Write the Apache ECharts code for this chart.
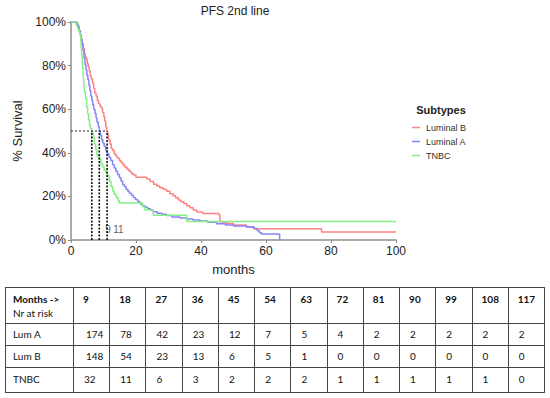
<!DOCTYPE html>
<html><head><meta charset="utf-8">
<script src="https://cdn.jsdelivr.net/npm/echarts@6/dist/echarts.min.js"></script>
<style>html,body{margin:0;padding:0;background:#fff}#c{width:550px;height:398px}</style>
</head><body><div id="c"></div>
<script>
// ---- Data ----
const seriesNames = ['Luminal B', 'Luminal A', 'TNBC'];
const kmLumB = [[0,100],[1.5,100],[1.8,99],[2.1,98],[2.4,97],[2.6,96],[2.9,94],[3.2,92],[3.5,90],[3.8,88],[4.1,85.5],[4.4,84],[4.7,83],[5.0,81],[5.3,79.5],[5.6,77.5],[5.9,75.5],[6.2,74],[6.6,72],[7.0,69.5],[7.3,67.5],[7.7,66],[8.1,64],[8.5,62.5],[8.9,61.5],[9.3,60.5],[9.7,58.5],[10.1,56.5],[10.4,54.5],[10.7,52],[11.0,50],[11.3,48],[11.6,46],[12.0,44],[12.4,42],[12.8,41],[13.3,39.5],[13.8,38.5],[14.3,37.5],[14.9,36.5],[15.4,35.5],[15.9,34.5],[16.5,33.5],[17.2,32.5],[17.9,31.5],[18.5,30.5],[19.2,29.8],[20.0,28.8],[23.3,28.0],[24.3,26.8],[25.4,25.6],[26.4,24.8],[27.3,24.0],[28.3,23.3],[29.4,22.4],[30.4,21.2],[31.4,20.3],[32.2,19.4],[33.0,18.3],[33.8,17.5],[34.7,16.7],[35.6,15.7],[36.6,14.8],[37.6,13.8],[38.7,12.8],[40.5,12.2],[45.5,11.6],[45.8,8.2],[48.0,7.6],[50.0,6.9],[54.0,6.1],[56.3,5.2],[77.1,3.7],[100,3.7]];
const kmLumA = [[0,100],[1.5,100],[1.9,99],[2.2,98],[2.5,96],[2.8,94],[3.1,92],[3.4,89.5],[3.7,87],[4.0,83.5],[4.3,80.5],[4.6,78],[4.9,75.5],[5.2,73.5],[5.5,71],[5.8,68.5],[6.1,66],[6.4,64],[6.7,62],[7.0,60],[7.4,58],[7.7,56],[8.0,54],[8.4,52],[8.7,50],[9.0,48],[9.4,46],[9.8,44.5],[10.2,43],[10.7,41],[11.2,39.5],[11.7,38],[12.2,36.5],[12.8,34.5],[13.3,33],[13.8,31.5],[14.3,30],[14.9,28.5],[15.4,27],[15.9,25.5],[16.4,24.5],[16.9,23.3],[17.5,22.3],[18.0,21.5],[18.6,20.5],[19.2,19.5],[19.8,18.6],[20.5,17.7],[21.2,16.6],[21.9,15.7],[22.7,15.0],[23.6,14.3],[24.5,13.6],[25.3,13.0],[26.5,12.3],[28.0,11.8],[29.4,11.2],[31.0,10.6],[33.5,10.1],[35.6,9.6],[37.5,9.2],[39.7,8.7],[42.0,8.1],[44.8,7.5],[47.5,6.9],[50.0,6.4],[54.0,6.0],[56.3,5.3],[57.3,4.3],[58.0,3.3],[58.6,2.7],[64.2,0]];
const kmTNBC = [[0,100],[1.3,100],[1.6,98.5],[2.0,97],[2.4,95.5],[2.7,94],[3.0,92],[3.2,88],[3.4,84],[3.6,79],[3.8,75],[4.0,71],[4.2,68],[4.5,65],[4.8,61],[5.1,58],[5.4,55],[5.7,52.5],[6.0,51],[6.4,49.5],[6.8,47],[7.2,44],[7.6,41.5],[8.0,38.5],[8.6,37],[9.2,35],[9.7,33.5],[10.2,32],[10.8,30.5],[11.3,29.5],[11.8,27],[12.3,24.5],[12.8,22.5],[13.3,21],[13.9,19.5],[14.5,18],[14.9,17],[22.05,15.4],[22.6,13.9],[25.3,11.3],[35.6,8.5],[100,8.5]];
const medianMonths = [6.4, 8.7, 11.1];
const medianLevel = 50;
const medianLabels = [{text:'9', month:11.4}, {text:'11', month:14.6}];
const medianLabelLevel = 4.6;
const xTicks = [0, 20, 40, 60, 80, 100];
const yTicks = [0, 20, 40, 60, 80, 100];

// Table
const tableMonths = [9,18,27,36,45,54,63,72,81,90,99,108,117];
const rowLabels = ['Lum A', 'Lum B', 'TNBC'];
const riskLumA = [174,78,42,23,12,7,5,4,2,2,2,2,2];
const riskLumB = [148,54,23,13,6,5,1,0,0,0,0,0,0];
const riskTNBC = [32,11,6,3,2,2,2,1,1,1,1,1,0];

// ---- Chart ----
const F = '"Liberation Sans", Arial, sans-serif';
const TF = 'Lato, Carlito, Calibri, sans-serif';
const colors = ['#ff8282', '#8585ff', '#86ee86'];
const chart = echarts.init(document.getElementById('c'), null, {renderer: 'svg'});

const curveSeries = [kmLumB, kmLumA, kmTNBC].map((d, i) => ({
  name: seriesNames[i], type: 'line', step: 'end', data: d, showSymbol: false, symbol: 'none',
  lineStyle: {color: colors[i], width: 1.5}, itemStyle: {color: colors[i]}, z: 2, silent: true
}));

const medianSeries = [{
  name: 'median-h', type: 'line', data: [[0, medianLevel], [Math.max(...medianMonths), medianLevel]],
  symbol: 'none', lineStyle: {color: '#222', width: 1, type: [2, 2]}, z: 3, silent: true
}].concat(medianMonths.map((m, i) => ({
  name: 'median-v' + i, type: 'line', data: [[m, 0], [m, medianLevel]],
  symbol: 'none', lineStyle: {color: '#111', width: 1.6, type: [2, 1.5]}, z: 3, silent: true
})));

const labelSeries = {
  name: 'median-labels', type: 'scatter', symbolSize: 0, silent: true,
  data: medianLabels.map(l => ({name: l.text, value: [l.month, medianLabelLevel]})),
  label: {show: true, formatter: p => p.name, position: 'inside', fontSize: 10, color: '#333', fontFamily: F}
};

// table graphic
const colEdges = [5];
for (let i = 0; i <= tableMonths.length; i++) colEdges.push(73 + i * (544 - 73) / tableMonths.length);
const rowEdges = [287, 323, 345, 367, 392];
const g = [];
const px = v => Math.round(v) + 0.5;
rowEdges.forEach(y => g.push({type: 'line', shape: {x1: 5, y1: px(y), x2: 545, y2: px(y)}, style: {stroke: '#444', lineWidth: 1}}));
colEdges.forEach(x => g.push({type: 'line', shape: {x1: px(x), y1: 287, x2: px(x), y2: 393}, style: {stroke: '#444', lineWidth: 1}}));
g.push({type: 'text', x: 13, y: 299, style: {text: 'Months ->', fontFamily: TF, fontSize: 10, fontWeight: 'bold', fill: '#111', align: 'left', verticalAlign: 'middle'}});
g.push({type: 'text', x: 13, y: 313, style: {text: 'Nr at risk', fontFamily: TF, fontSize: 10, fill: '#111', align: 'left', verticalAlign: 'middle'}});
tableMonths.forEach((m, i) => g.push({type: 'text', x: colEdges[i + 1] + 10, y: 299, style: {text: String(m), fontFamily: TF, fontSize: 10, fontWeight: 'bold', fill: '#111', align: 'left', verticalAlign: 'middle'}}));
const rowYs = [334, 356, 379];
[riskLumA, riskLumB, riskTNBC].forEach((row, r) => {
  g.push({type: 'text', x: 13, y: rowYs[r], style: {text: rowLabels[r], fontFamily: TF, fontSize: 10, fill: '#111', align: 'left', verticalAlign: 'middle'}});
  row.forEach((v, i) => g.push({type: 'text', x: colEdges[i + 1] + (String(v).length > 2 ? 13 : 11), y: rowYs[r], style: {text: String(v), fontFamily: TF, fontSize: 10, fill: '#111', align: 'left', verticalAlign: 'middle'}}));
});
// title + legend title
g.push({type: 'text', x: 235, y: 11, style: {text: 'PFS 2nd line', fontFamily: F, fontSize: 12, fill: '#222', align: 'center', verticalAlign: 'middle'}});
g.push({type: 'text', x: 441, y: 110, style: {text: 'Subtypes', fontFamily: F, fontSize: 11, fontWeight: 'bold', fill: '#222', align: 'center', verticalAlign: 'middle'}});

chart.setOption({
  animation: false,
  backgroundColor: '#fff',
  grid: {left: 71, right: 154, top: 22, bottom: 158},
  legend: {
    data: seriesNames, orient: 'vertical', left: 412, top: 122, padding: 0,
    icon: 'rect', itemWidth: 8, itemHeight: 1.5, itemGap: 3,
    textStyle: {fontSize: 9, fontFamily: F, color: '#333', lineHeight: 11, padding: [0, 0, 0, 1]}
  },
  xAxis: {
    type: 'value', min: 0, max: 100, interval: 20,
    name: 'months', nameLocation: 'middle', nameGap: 23,
    nameTextStyle: {fontSize: 13, fontFamily: F, color: '#222'},
    axisLine: {lineStyle: {color: '#aaa', width: 2}},
    axisTick: {show: true, length: 3, lineStyle: {color: '#888'}},
    axisLabel: {fontSize: 12, fontFamily: F, color: '#222', margin: 5, formatter: v => xTicks.includes(v) ? String(v) : ''},
    splitLine: {show: false}
  },
  yAxis: {
    type: 'value', min: 0, max: 100, interval: 20,
    name: '% Survival', nameLocation: 'middle', nameGap: 46, nameRotate: 90,
    nameTextStyle: {fontSize: 13, fontFamily: F, color: '#222'},
    axisLine: {show: true, lineStyle: {color: '#aaa', width: 2}},
    axisTick: {show: true, length: 3, lineStyle: {color: '#888'}},
    axisLabel: {fontSize: 12, fontFamily: F, color: '#222', margin: 5, formatter: v => yTicks.includes(v) ? v + '%' : ''},
    splitLine: {show: false}
  },
  graphic: g,
  series: curveSeries.concat(medianSeries, [labelSeries])
});
</script></body></html>
